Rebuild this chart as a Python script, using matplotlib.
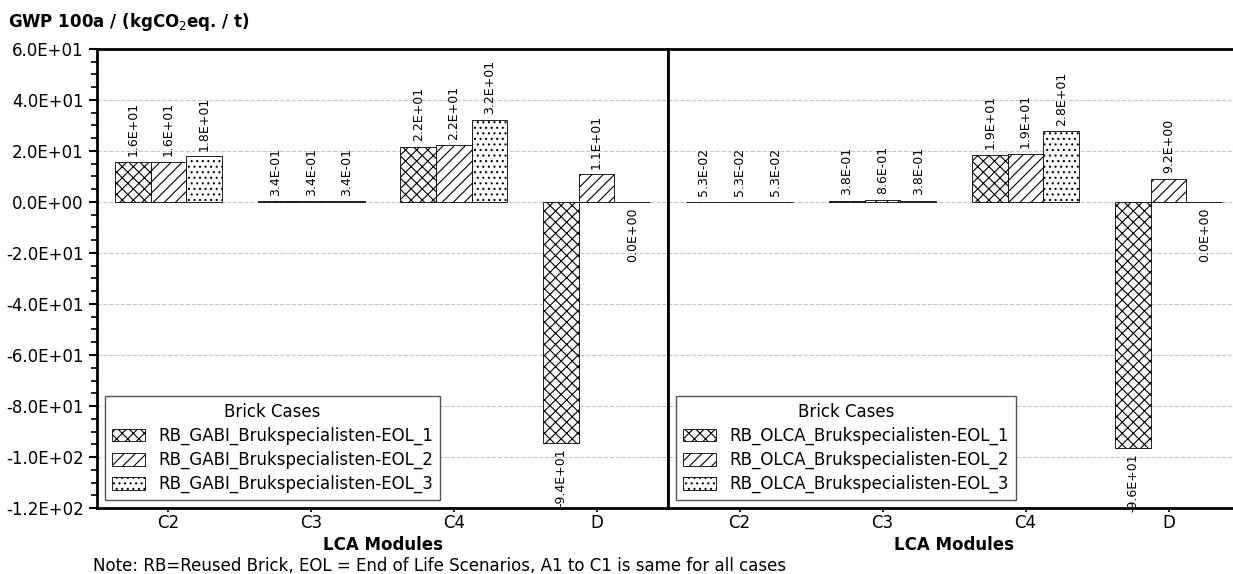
import numpy as np
import matplotlib
matplotlib.use("Agg")
import matplotlib.pyplot as plt
from matplotlib.ticker import MultipleLocator, FuncFormatter

modules = ["C2", "C3", "C4", "D"]

gabi_labels = ["RB_GABI_Brukspecialisten-EOL_1",
               "RB_GABI_Brukspecialisten-EOL_2",
               "RB_GABI_Brukspecialisten-EOL_3"]
olca_labels = ["RB_OLCA_Brukspecialisten-EOL_1",
               "RB_OLCA_Brukspecialisten-EOL_2",
               "RB_OLCA_Brukspecialisten-EOL_3"]

# GWP values per module (C2, C3, C4, D)
gabi_eol1 = [15.8, 0.34, 21.6, -94.4]
gabi_eol2 = [15.8, 0.34, 22.2, 10.9]
gabi_eol3 = [18.0, 0.34, 32.3, 0.0]

olca_eol1 = [0.053, 0.38, 18.6, -96.4]
olca_eol2 = [0.053, 0.86, 19.0, 9.2]
olca_eol3 = [0.053, 0.38, 27.8, 0.0]

hatches = ["xxx", "///", "..."]

plt.rcParams["hatch.linewidth"] = 0.8

fig = plt.figure(figsize=(12.33, 5.74), dpi=100)
ax1 = fig.add_axes([97 / 1233, 66 / 574, 571 / 1233, 459 / 574])
ax2 = fig.add_axes([668 / 1233, 66 / 574, 572 / 1233, 459 / 574], sharey=ax1)

x = np.arange(len(modules))
w = 0.25


def draw(ax, series, labels):
    for i, (vals, lab) in enumerate(zip(series, labels)):
        bars = ax.bar(x + (i - 1) * w, vals, w, label=lab, color="white",
                      edgecolor="black", linewidth=0.6, hatch=hatches[i], zorder=3)
        for b, v in zip(bars, vals):
            if v > 0:
                ax.annotate("{:.1E}".format(v), (b.get_x() + w / 2, v),
                            xytext=(0, 4), textcoords="offset points",
                            rotation=90, ha="center", va="bottom", fontsize=9)
            else:
                ax.annotate("{:.1E}".format(v), (b.get_x() + w / 2, v),
                            xytext=(0, -4), textcoords="offset points",
                            rotation=90, ha="center", va="top", fontsize=9)
    ax.set_xticks(x)
    ax.set_xticklabels(modules, fontsize=12)
    ax.set_xlim(-0.5, 3.5)
    ax.set_xlabel("LCA Modules", fontsize=12, fontweight="bold", labelpad=3)
    ax.yaxis.grid(True, which="major", linestyle="--", color="#c8c8c8", linewidth=0.8, zorder=0)
    ax.set_axisbelow(True)
    for s in ax.spines.values():
        s.set_linewidth(2)
    leg = ax.legend(title="Brick Cases", loc="lower left", fontsize=12,
                    title_fontsize=12, fancybox=False, framealpha=1,
                    borderaxespad=0, bbox_to_anchor=(8 / 571, 8 / 459),
                    labelspacing=0.35, handleheight=0.8)
    leg.get_frame().set_edgecolor("#555555")


draw(ax1, [gabi_eol1, gabi_eol2, gabi_eol3], gabi_labels)
draw(ax2, [olca_eol1, olca_eol2, olca_eol3], olca_labels)

ax1.set_ylim(-120, 60)
ax1.yaxis.set_major_locator(MultipleLocator(20))
ax1.yaxis.set_minor_locator(MultipleLocator(5))
ax1.yaxis.set_major_formatter(FuncFormatter(lambda v, p: "{:.1E}".format(v)))
ax1.tick_params(axis="y", which="major", labelsize=12, length=6, width=1.5)
ax1.tick_params(axis="y", which="minor", length=4, width=1.2)
ax1.tick_params(axis="x", length=3, width=1.2, pad=1)
ax2.tick_params(axis="y", which="both", left=False, labelleft=False)
ax2.tick_params(axis="x", length=3, width=1.2, pad=1)

fig.text(8 / 1233, 1 - 22 / 574, "GWP 100a / (kgCO$_2$eq. / t)", fontsize=12,
         fontweight="bold", va="center", ha="left")
fig.text(93 / 1233, 1 - 566 / 574,
         "Note: RB=Reused Brick, EOL = End of Life Scenarios, A1 to C1 is same for all cases",
         fontsize=12, va="center", ha="left")

fig.savefig("out.png", dpi=100)
